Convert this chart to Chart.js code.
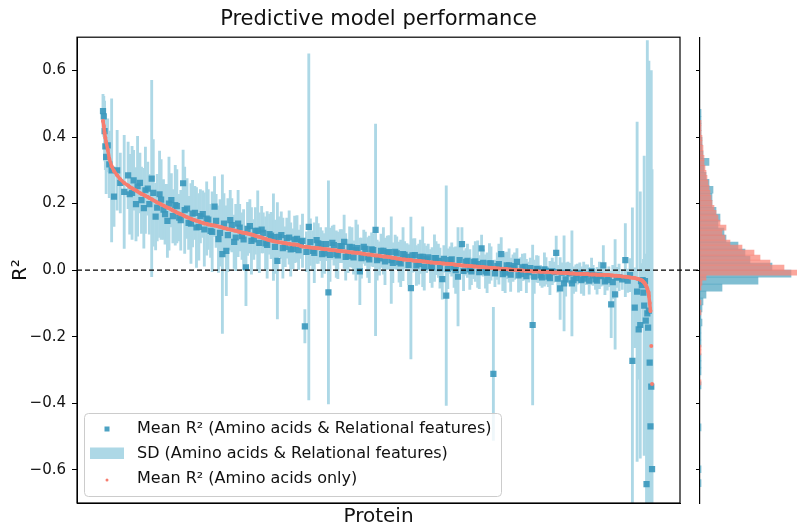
<!DOCTYPE html>
<html>
<head>
<meta charset="utf-8">
<script src="https://cdn.jsdelivr.net/npm/chart.js@4.4.0/dist/chart.umd.min.js"></script>
<style>
  html, body { margin: 0; padding: 0; background: #fff; }
  #wrap { position: relative; width: 797px; height: 527px; }
  #mainChart { position: absolute; left: 0; top: 0; }
  #histChart { position: absolute; left: 690px; top: 0; }
</style>
</head>
<body>
<div id="wrap">
  <canvas id="mainChart" width="797" height="527"></canvas>
  <canvas id="histChart" width="107" height="527"></canvas>
</div>
<script>
// --- Data ---
// protein rank after sorting by the amino-acids-only score
const proteinRank = [1,2,3,4,5,7,9,12,15,19,23,28,
  33,38,43,48,53,58,63,68,73,78,83,88,93,98,103,108,113,118,123,128,133,138,143,148,153,158,163,168,173,178,
  183,188,193,198,203,208,213,218,223,228,233,238,243,248,253,258,263,268,273,278,283,288,293,298,303,308,313,318,323,328,
  333,338,343,348,353,358,363,368,373,378,383,388,393,398,403,408,413,418,423,428,433,438,443,448,453,458,463,468,473,478,
  483,488,493,498,503,508,513,518,523,528,533,538,543,548,553,558,563,568,573,578,583,588,593,598,603,608,613,618,623,628,
  633,638,643,648,653,658,
  662,666,669,672,675,678,681,683,685,686,687,688,689,690,691,692,693,694,695,696,697,698,699,700];

// Mean R2, amino acids only
const meanAAOnly = [0.448,0.433,0.412,0.398,0.385,0.362,0.335,0.312,0.298,0.285,0.273,0.262,
  0.254,0.246,0.239,0.232,0.226,0.220,0.213,0.206,0.200,0.194,
  0.188,0.182,0.176,0.170,0.165,0.159,0.154,0.150,0.146,0.142,
  0.139,0.136,0.134,0.131,0.128,0.125,0.122,0.119,0.116,0.113,
  0.111,0.108,0.105,0.101,0.098,0.094,0.090,0.087,0.085,0.083,
  0.081,0.079,0.077,0.076,0.072,0.070,0.069,0.067,0.066,0.065,
  0.063,0.062,0.060,0.059,0.057,0.056,0.055,0.053,0.052,0.051,
  0.049,0.047,0.046,0.044,0.043,0.041,0.040,0.038,0.036,0.034,
  0.032,0.031,0.030,0.028,0.027,0.026,0.025,0.023,0.022,0.021,
  0.020,0.019,0.018,0.017,0.015,0.014,0.013,0.012,0.011,0.010,
  0.009,0.008,0.007,0.006,0.005,0.004,0.003,0.002,0.001,0.000,
  -0.001,-0.002,-0.003,-0.004,-0.004,-0.005,-0.005,-0.006,-0.007,-0.007,
  -0.008,-0.009,-0.009,-0.010,-0.011,-0.011,-0.012,-0.012,-0.013,-0.013,
  -0.014,-0.014,-0.015,-0.016,-0.017,-0.018,
  -0.019,-0.020,-0.021,-0.022,-0.023,-0.024,-0.026,-0.027,-0.029,-0.030,-0.031,-0.033,
  -0.035,-0.038,-0.041,-0.045,-0.050,-0.056,-0.064,-0.078,-0.099,-0.123,-0.228,-0.342];

// Mean R2, amino acids & relational features
const meanRelational = [0.478,0.462,0.418,0.372,0.340,0.375,0.318,0.300,0.221,0.300,0.262,0.235,
  0.285,0.232,0.198,0.262,0.186,0.245,0.275,0.161,0.228,0.182,
  0.148,0.210,0.195,0.158,0.261,0.185,0.140,0.172,0.130,0.168,
  0.155,0.118,0.191,0.093,0.048,0.058,0.150,0.085,0.140,0.102,
  0.008,0.132,0.092,0.118,0.122,0.080,0.108,0.099,0.028,0.105,
  0.070,0.098,0.064,0.094,0.085,-0.169,0.130,0.058,0.090,0.078,
  0.050,-0.067,0.082,0.048,0.072,0.085,0.042,0.068,0.060,-0.004,
  0.070,0.038,0.062,0.121,0.035,0.058,0.052,0.030,0.055,0.024,
  0.048,0.040,-0.054,0.045,0.018,0.040,0.032,0.012,0.036,0.028,
  -0.027,-0.077,0.030,0.008,-0.020,0.078,0.025,0.002,0.024,0.018,
  0.065,-0.004,0.020,-0.312,0.012,0.048,-0.008,0.014,0.006,0.025,
  -0.012,0.010,-0.006,-0.165,0.004,-0.016,0.002,-0.020,-0.004,0.052,
  -0.055,-0.040,-0.006,-0.040,-0.024,-0.008,-0.026,-0.014,-0.004,-0.028,
  -0.016,0.014,-0.030,-0.103,-0.073,-0.022,
  -0.028,0.030,-0.032,-0.015,-0.273,-0.113,-0.065,-0.178,-0.165,-0.033,-0.045,-0.030,
  -0.068,-0.107,-0.033,-0.152,-0.643,-0.130,-0.173,-0.122,-0.278,-0.470,-0.350,-0.598];

// SD, amino acids & relational features
const sdRelational = [0.05,0.06,0.09,0.07,0.11,0.08,0.10,0.215,0.09,0.12,0.09,0.17,
  0.10,0.14,0.11,0.09,0.12,0.08,0.295,0.10,0.13,0.09,
  0.11,0.08,0.12,0.07,0.10,0.09,0.12,0.08,0.10,0.07,
  0.11,0.08,0.09,0.10,0.238,0.135,0.09,0.08,0.10,0.07,
  0.115,0.08,0.06,0.12,0.07,0.08,0.06,0.13,0.175,0.07,
  0.06,0.08,0.06,0.07,0.05,0.05,0.52,0.06,0.07,0.05,
  0.06,0.335,0.05,0.07,0.05,0.08,0.05,0.06,0.09,0.10,
  0.05,0.06,0.05,0.318,0.05,0.07,0.05,0.13,0.05,0.06,
  0.08,0.04,0.213,0.05,0.06,0.09,0.04,0.05,0.07,0.05,
  0.06,0.33,0.04,0.06,0.148,0.05,0.04,0.06,0.05,0.07,
  0.04,0.05,0.06,0.20,0.04,0.05,0.06,0.05,0.04,0.04,
  0.05,0.04,0.03,0.24,0.04,0.03,0.05,0.03,0.04,0.05,
  0.093,0.143,0.03,0.158,0.04,0.03,0.05,0.03,0.04,0.03,
  0.04,0.06,0.03,0.10,0.165,0.04,
  0.03,0.11,0.035,0.05,0.46,0.12,0.51,0.15,0.40,0.05,0.06,0.05,
  0.10,0.45,0.08,0.20,0.55,0.82,0.60,0.75,0.50,0.45,0.95,0.90];

// proteins in between (second batch)
const proteinRankB = [35,40,45,50,55,60,65,70,75,80, 85,90,95,100,105,110,115,120,125,130,
  135,140,145,150,155,160,165,170,175,180, 185,190,195,200,205,210,215,220,225,230,
  235,240,245,250,255,260,265,270,275,280, 285,290,295,300,305,310,315,320,325,330,
  335,340,345,350,355,360,365,370,375,380, 385,390,395,400,405,410,415,420,425,430,
  435,440,445,450,455,460,465,470,475,480, 485,490,495,500,505,510,515,520,525,530,
  535,540,545,550,555,560,565,570,575,580, 585,590,595,600,605,610,615,620,625,630,
  635,640,645,650,655];
const meanAAOnlyB = [0.250,0.243,0.236,0.229,0.223,0.217,0.210,0.203,0.197,0.191,
  0.186,0.179,0.173,0.168,0.162,0.157,0.152,0.148,0.144,0.140,
  0.137,0.135,0.133,0.130,0.126,0.123,0.121,0.118,0.115,0.112,
  0.110,0.107,0.103,0.100,0.096,0.092,0.089,0.086,0.084,0.082,
  0.080,0.078,0.077,0.075,0.071,0.070,0.068,0.067,0.066,0.064,
  0.063,0.061,0.060,0.058,0.057,0.056,0.054,0.053,0.052,0.050,
  0.048,0.047,0.045,0.044,0.042,0.041,0.039,0.037,0.035,0.033,
  0.032,0.031,0.029,0.028,0.027,0.026,0.024,0.023,0.022,0.021,
  0.020,0.019,0.018,0.016,0.015,0.014,0.013,0.012,0.011,0.010,
  0.009,0.008,0.007,0.006,0.005,0.004,0.003,0.002,0.001,0.000,
  -0.001,-0.002,-0.003,-0.004,-0.004,-0.005,-0.006,-0.006,-0.007,-0.008,
  -0.008,-0.009,-0.010,-0.010,-0.011,-0.012,-0.012,-0.013,-0.013,-0.014,
  -0.014,-0.015,-0.015,-0.016,-0.017];
const meanRelationalB = [0.228,0.270,0.252,0.210,0.240,0.198,0.232,0.188,0.212,0.168,
  0.200,0.162,0.192,0.150,0.180,0.142,0.170,0.128,0.162,0.122,
  0.152,0.115,0.148,0.112,0.140,0.105,0.135,0.098,0.128,0.092,
  0.124,0.088,0.118,0.082,0.112,0.076,0.104,0.070,0.100,0.066,
  0.096,0.062,0.092,0.060,0.088,0.055,0.084,0.052,0.080,0.048,
  0.078,0.046,0.075,0.044,0.072,0.040,0.070,0.038,0.066,0.036,
  0.064,0.032,0.060,0.030,0.058,0.026,0.054,0.022,0.050,0.020,
  0.046,0.016,0.044,0.014,0.040,0.010,0.038,0.008,0.036,0.006,
  0.034,0.004,0.032,0.000,0.030,-0.002,0.028,-0.004,0.026,-0.006,
  0.022,-0.008,0.020,-0.010,0.018,-0.012,0.014,-0.014,0.012,-0.016,
  0.008,-0.018,0.006,-0.020,0.002,-0.022,-0.002,-0.024,-0.006,-0.026,
  -0.008,-0.028,-0.010,-0.030,-0.012,-0.030,-0.014,-0.032,-0.016,-0.032,
  -0.018,-0.034,-0.020,-0.036,-0.022];
const sdRelationalB = [0.12,0.09,0.15,0.10,0.13,0.09,0.16,0.10,0.12,0.09,
  0.14,0.08,0.11,0.09,0.13,0.08,0.10,0.12,0.08,0.11,
  0.09,0.12,0.08,0.10,0.09,0.11,0.08,0.10,0.07,0.09,
  0.08,0.10,0.07,0.09,0.06,0.10,0.07,0.08,0.06,0.09,
  0.06,0.08,0.07,0.06,0.08,0.06,0.07,0.09,0.06,0.07,
  0.05,0.08,0.06,0.07,0.05,0.07,0.06,0.05,0.07,0.06,
  0.05,0.07,0.05,0.06,0.05,0.07,0.05,0.06,0.05,0.07,
  0.04,0.06,0.05,0.06,0.05,0.07,0.04,0.06,0.05,0.06,
  0.04,0.06,0.05,0.07,0.04,0.06,0.05,0.04,0.06,0.05,
  0.04,0.06,0.05,0.04,0.06,0.05,0.04,0.05,0.04,0.05,
  0.04,0.05,0.03,0.05,0.04,0.03,0.04,0.05,0.03,0.04,
  0.03,0.05,0.03,0.04,0.03,0.04,0.03,0.04,0.03,0.04,
  0.03,0.04,0.03,0.05,0.03];

const yTickValues = [-0.6, -0.4, -0.2, 0.0, 0.2, 0.4, 0.6];

// side histograms (bin centre, count)
const histRelCenters = [0.4725,0.4515,0.4305,0.4095,0.3885,0.3675,0.3465,0.3255,0.3045,0.2835,
  0.2625,0.2415,0.2205,0.1995,0.1785,0.1575,0.1365,0.1155,0.0945,0.0735,
  0.0525,0.0315,0.0105,-0.0105,-0.0315,-0.0525,-0.0735,-0.0945,-0.1155,-0.1365,
  -0.1575,-0.1785,-0.1995,-0.2205,-0.2625,-0.2835,-0.3045,-0.3465,-0.4725,-0.5985,-0.6405];
const histRelCounts = [1,1,1,1,2,2,3,9,4,6, 9,13,12,12,16,20,18,24,26,38,
  45,50,72,91,58,22,6,3,2,1, 2,1,1,1,1,1,1,1,1,1,1];
const histAACenters = [0.4425,0.4275,0.4125,0.3975,0.3825,0.3675,0.3525,0.3375,0.3225,0.3075,
  0.2925,0.2775,0.2625,0.2475,0.2325,0.2175,0.2025,0.1875,0.1725,0.1575,
  0.1425,0.1275,0.1125,0.0975,0.0825,0.0675,0.0525,0.0375,0.0225,0.0075,
  -0.0075,-0.0225,-0.0375,-0.0525,-0.0975,-0.1275,-0.2325,-0.2475,-0.3375];
const histAACounts = [1,1,1,2,2,3,3,4,4,5, 6,7,8,9,10,11,12,14,16,18,
  20,26,22,25,30,42,54,60,70,84, 97,6,2,1,1,1,1,1,1];

// --- Styles ---
const TEAL = 'rgba(58,152,188,0.9)';
const SD_BLUE = '#add8e6';
const SALMON = '#f67d6f';
const TEXT = '#111';

Chart.defaults.font.family = "'DejaVu Sans', sans-serif";
Chart.defaults.color = TEXT;

// both batches together, ordered by rank
const proteins = proteinRank.map((r, i) => ({ rank: r, aa: meanAAOnly[i], rel: meanRelational[i], sd: sdRelational[i] }))
    .concat(proteinRankB.map((r, i) => ({ rank: r, aa: meanAAOnlyB[i], rel: meanRelationalB[i], sd: sdRelationalB[i] })))
    .sort((a, b) => a.rank - b.rank);

function fmtTick(v) {
    return v.toFixed(1).replace('-', '\u2212');
}

function setTicks(scale) {
    scale.ticks = yTickValues.map(v => ({ value: v }));
}

// zero line, frame and legend for the main panel
const mainDecor = {
    id: 'mainDecor',
    afterDatasetsDraw(chart) {
        const { ctx, chartArea, scales } = chart;
        const y0 = scales.y.getPixelForValue(0);
        ctx.save();
        ctx.strokeStyle = '#000';
        ctx.lineWidth = 1.3;
        ctx.setLineDash([5, 3]);
        ctx.beginPath();
        ctx.moveTo(chartArea.left, y0);
        ctx.lineTo(700, y0);
        ctx.stroke();
        ctx.restore();
    },
    afterDraw(chart) {
        const { ctx, chartArea } = chart;
        ctx.save();
        ctx.strokeStyle = '#000';
        ctx.lineWidth = 1.2;
        ctx.strokeRect(chartArea.left, chartArea.top, chartArea.right - chartArea.left, chartArea.bottom - chartArea.top);

        // legend box
        ctx.beginPath();
        ctx.roundRect(84.5, 413.5, 417, 83, 4);
        ctx.fillStyle = 'rgba(255,255,255,0.8)';
        ctx.fill();
        ctx.strokeStyle = '#cccccc';
        ctx.lineWidth = 1;
        ctx.stroke();

        ctx.fillStyle = TEAL;
        ctx.fillRect(104.5, 426.5, 5, 5);
        ctx.fillStyle = SD_BLUE;
        ctx.fillRect(90, 447.5, 34, 11.5);
        ctx.fillStyle = SALMON;
        ctx.beginPath();
        ctx.arc(107, 480, 1.5, 0, Math.PI * 2);
        ctx.fill();

        ctx.fillStyle = TEXT;
        ctx.font = "16px 'DejaVu Sans', sans-serif";
        ctx.textBaseline = 'middle';
        ctx.fillText('Mean R\u00b2 (Amino acids & Relational features)', 137, 429);
        ctx.fillText('SD (Amino acids & Relational features)', 137, 453.5);
        ctx.fillText('Mean R\u00b2 (Amino acids only)', 137, 479);
        ctx.restore();
    }
};

new Chart(document.getElementById('mainChart'), {
    type: 'scatter',
    data: {
        datasets: [
            {
                type: 'bar',
                label: 'SD (Amino acids & Relational features)',
                data: proteins.map(p => ({ x: p.rank, y: [p.rel - p.sd, p.rel + p.sd] })),
                backgroundColor: SD_BLUE,
                borderWidth: 0,
                barThickness: 2.2,
                order: 3
            },
            {
                label: 'Mean R\u00b2 (Amino acids & Relational features)',
                data: proteins.map(p => ({ x: p.rank, y: p.rel })),
                pointStyle: 'rect',
                pointRadius: 4.4,
                backgroundColor: TEAL,
                borderWidth: 0,
                order: 2
            },
            {
                label: 'Mean R\u00b2 (Amino acids only)',
                data: proteins.map(p => ({ x: p.rank, y: p.aa })),
                showLine: true,
                borderColor: SALMON,
                borderWidth: 3.5,
                borderCapStyle: 'round',
                backgroundColor: SALMON,
                pointRadius: 2,
                pointBorderWidth: 0,
                segment: {
                    borderColor: c => Math.abs(c.p1.parsed.y - c.p0.parsed.y) > 0.08 ? 'rgba(0,0,0,0)' : SALMON
                },
                order: 1
            }
        ]
    },
    options: {
        responsive: false,
        animation: false,
        layout: { padding: { left: 0, right: 117, top: 0, bottom: 0 } },
        scales: {
            x: {
                type: 'linear',
                min: -32.1,
                max: 735.6,
                offset: false,
                ticks: { display: false },
                grid: { display: false },
                border: { display: true, color: '#000' },
                title: { display: true, text: 'Protein', font: { size: 20, lineHeight: 1 }, padding: { top: 0, bottom: 0 }, color: TEXT },
                afterFit: s => { s.height = 24; }
            },
            y: {
                type: 'linear',
                min: -0.7,
                max: 0.7,
                afterBuildTicks: setTicks,
                afterFit: s => { s.width = 77; },
                ticks: { callback: v => fmtTick(v), font: { size: 15 }, color: TEXT, padding: 6 },
                grid: { drawOnChartArea: false, drawTicks: true, tickLength: 5, color: '#000' },
                border: { display: true, color: '#000', width: 1 },
                title: { display: true, text: 'R\u00b2', font: { size: 20 }, padding: { top: 9, bottom: 0 }, color: TEXT }
            }
        },
        plugins: {
            legend: { display: false },
            tooltip: { enabled: false },
            title: {
                display: true,
                text: 'Predictive model performance',
                fullSize: false,
                font: { size: 21, weight: 'normal' },
                color: TEXT,
                padding: { top: 7, bottom: 5 }
            }
        }
    },
    plugins: [mainDecor]
});

// --- Side histogram ---
new Chart(document.getElementById('histChart'), {
    type: 'bar',
    data: {
        datasets: [
            {
                label: 'Mean R\u00b2 (Amino acids only)',
                data: histAACenters.map((c, i) => ({ y: c, x: histAACounts[i] })),
                backgroundColor: 'rgba(250,128,114,0.7)',
                borderWidth: 0,
                barThickness: 5,
                grouped: false,
                order: 1
            },
            {
                label: 'Mean R\u00b2 (Amino acids & Relational features)',
                data: histRelCenters.map((c, i) => ({ y: c, x: histRelCounts[i] })),
                backgroundColor: 'rgba(74,163,191,0.7)',
                borderWidth: 0,
                barThickness: 7,
                grouped: false,
                order: 2
            }
        ]
    },
    options: {
        indexAxis: 'y',
        responsive: false,
        animation: false,
        layout: { padding: { left: 0, right: 0, top: 37.2, bottom: 24 } },
        scales: {
            y: {
                type: 'linear',
                min: -0.7,
                max: 0.7,
                offset: false,
                afterBuildTicks: setTicks,
                afterFit: s => { s.width = 10; },
                ticks: { display: false },
                grid: { offset: false, drawOnChartArea: false, drawTicks: true, tickLength: 4, color: '#000' },
                border: { display: true, color: '#000', width: 1.2 }
            },
            x: { type: 'linear', min: 0, max: 97, display: false }
        },
        plugins: { legend: { display: false }, tooltip: { enabled: false } }
    }
});
</script>
</body>
</html>
